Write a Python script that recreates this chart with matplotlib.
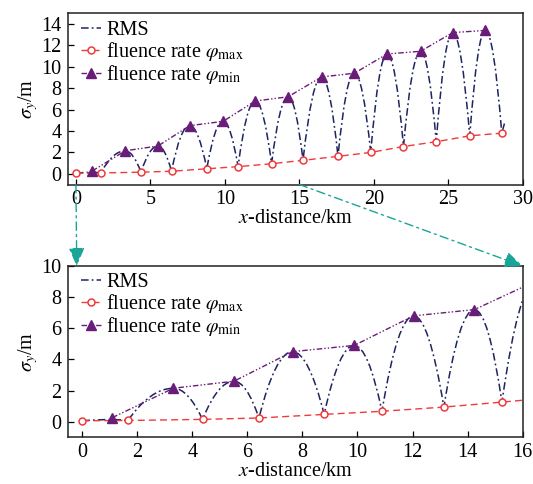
import matplotlib
matplotlib.use("Agg")
import matplotlib.pyplot as plt
from matplotlib.path import Path
from matplotlib.patches import PathPatch, ConnectionPatch
from matplotlib.lines import Line2D

plt.rcParams["font.family"] = ["Liberation Serif", "DejaVu Serif"]
plt.rcParams["mathtext.fontset"] = "stix"

# fluence rate phi_max (valleys of the RMS curve)
phi_max_x = [0.0, 1.66, 4.37, 6.42, 8.79, 10.89, 13.14, 15.25, 17.6, 19.8, 22.0, 24.2, 26.45, 28.6]
phi_max_y = [0.06, 0.08, 0.15, 0.24, 0.47, 0.67, 0.94, 1.26, 1.63, 2.0, 2.55, 3.0, 3.55, 3.8]

# fluence rate phi_min (peaks of the RMS curve)
phi_min_x = [1.09, 3.31, 5.51, 7.64, 9.88, 12.04, 14.25, 16.5, 18.7, 20.9, 23.15, 25.3, 27.5]
phi_min_y = [0.26, 2.15, 2.6, 4.5, 4.9, 6.8, 7.2, 9.05, 9.4, 11.2, 11.45, 13.2, 13.4]

# RMS turning points: alternating valley / peak, plus the trailing rise
rms_x = [0.0, 1.09, 1.66, 3.31, 4.37, 5.51, 6.42, 7.64, 8.79, 9.88, 10.89, 12.04,
         13.14, 14.25, 15.25, 16.5, 17.6, 18.7, 19.8, 20.9, 22.0, 23.15, 24.2,
         25.3, 26.45, 27.5, 28.6, 28.78]
rms_y = [0.06, 0.14, 0.08, 2.15, 0.15, 2.6, 0.24, 4.5, 0.47, 4.9, 0.67, 6.8,
         0.94, 7.2, 1.26, 9.05, 1.63, 9.4, 2.0, 11.2, 2.55, 11.45, 3.0,
         13.2, 3.55, 13.4, 3.8, 4.7]

C_RMS = "#1e2460"
C_MAX = "#ee3b3b"
C_MIN = "#6a1d78"
C_ARROW = "#1aa598"

FS = 14.5
LW = 1.0
DASH_MIN = (0, (4, 1.5, 1, 1.5, 1, 1.5))
DASH_RMS = (0, (5, 2, 1.2, 2))
DASH_MAX = (0, (5, 3))


def rms_path(xs, ys):
    """Arched curve: parabolic arcs with a flat top at every peak."""
    verts = [(xs[0], ys[0])]
    codes = [Path.MOVETO]
    n = len(xs)
    for i in range(1, n):
        xa, ya, xb, yb = xs[i - 1], ys[i - 1], xs[i], ys[i]
        if i == n - 1:
            verts.append((xb, yb))
            codes.append(Path.LINETO)
            continue
        peak_y = max(ya, yb)
        verts += [((xa + xb) / 2, peak_y), (xb, yb)]
        codes += [Path.CURVE3, Path.CURVE3]
    return Path(verts, codes)


def draw(ax, xlim, ylim, xticks, yticks, legend_y):
    patch = PathPatch(rms_path(rms_x, rms_y), transform=ax.transData, fill=False,
                      edgecolor=C_RMS, lw=LW + 0.1, linestyle=DASH_RMS, zorder=3)
    ax.add_patch(patch)
    ax.plot(phi_max_x, phi_max_y, linestyle=DASH_MAX, color=C_MAX, lw=LW,
            marker="o", ms=5, mfc="white", mec=C_MAX, mew=1.1, zorder=4)
    ax.plot(phi_min_x, phi_min_y, linestyle=DASH_MIN, color=C_MIN, lw=LW,
            marker="^", ms=7, mfc=C_MIN, mec=C_MIN, zorder=4)
    ax.set_xlim(*xlim)
    ax.set_ylim(*ylim)
    ax.set_xticks(xticks)
    ax.set_yticks(yticks)
    ax.tick_params(direction="in", length=4.5, width=0.9, labelsize=FS, pad=4)
    ax.tick_params(axis="y", pad=5)
    for s in ax.spines.values():
        s.set_linewidth(1.1)
        s.set_color("#222222")
    ax.set_xlabel(r"$x$-distance/km", fontsize=FS, labelpad=0)
    ax.set_ylabel(r"$\sigma_y$/m", fontsize=FS, labelpad=1)

    handles = [
        Line2D([], [], linestyle=DASH_RMS, color=C_RMS, lw=LW + 0.1),
        Line2D([], [], linestyle=DASH_MAX, color=C_MAX, lw=LW, marker="o",
               ms=5, mfc="white", mec=C_MAX, mew=1.1),
        Line2D([], [], linestyle=DASH_MIN, color=C_MIN, lw=LW, marker="^",
               ms=7, mfc=C_MIN, mec=C_MIN),
    ]
    labels = ["RMS", r"fluence rate $\varphi_{\rm max}$", r"fluence rate $\varphi_{\rm min}$"]
    ax.legend(handles, labels, loc="upper left", bbox_to_anchor=(0.028, legend_y),
              frameon=False, fontsize=FS, handlelength=1.0, handletextpad=0.25,
              labelspacing=0.0, borderpad=0, borderaxespad=0, numpoints=1)


fig = plt.figure(figsize=(5.33, 4.84), dpi=100)
ax1 = fig.add_axes([0.1285, 0.6188, 0.852, 0.3537])
ax2 = fig.add_axes([0.1285, 0.0965, 0.852, 0.3539])

draw(ax1, (-0.5, 30), (-1, 15), [0, 5, 10, 15, 20, 25, 30], list(range(0, 15, 2)), 0.955)
draw(ax2, (-0.5, 16), (-1, 10), list(range(0, 17, 2)), list(range(0, 11, 2)), 0.96)

# zoom indicators linking the two panels
for xa, ya, xb, yb in [(0, -1, -0.2, 10), (15, -1, 16, 10)]:
    con = ConnectionPatch(xyA=(xa, ya), coordsA=ax1.transData,
                          xyB=(xb, yb), coordsB=ax2.transData,
                          arrowstyle="-|>,head_length=0.8,head_width=0.35",
                          mutation_scale=14, color=C_ARROW, lw=1.0,
                          linestyle=(0, (6, 3, 1.5, 3)), zorder=10)
    fig.add_artist(con)

fig.savefig("out.png", dpi=100)
